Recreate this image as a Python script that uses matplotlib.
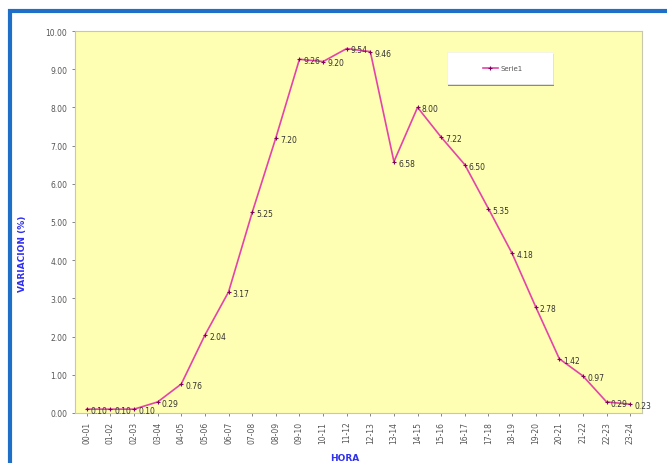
import matplotlib.pyplot as plt
from matplotlib.patches import Rectangle

# hourly intervals and percentage variation
horas = ['00-01', '01-02', '02-03', '03-04', '04-05', '05-06', '06-07', '07-08',
         '08-09', '09-10', '10-11', '11-12', '12-13', '13-14', '14-15', '15-16',
         '16-17', '17-18', '18-19', '19-20', '20-21', '21-22', '22-23', '23-24']
variacion = [0.10, 0.10, 0.10, 0.29, 0.76, 2.04, 3.17, 5.25, 7.20, 9.26, 9.20, 9.54,
             9.46, 6.58, 8.00, 7.22, 6.50, 5.35, 4.18, 2.78, 1.42, 0.97, 0.29, 0.23]
serie = 'Serie1'

W, H = 667, 464
fig = plt.figure(figsize=(W / 100, H / 100), dpi=100)

# blue frame around the chart (runs off the right and bottom edges)
fig.patches.append(Rectangle((10 / W, -0.2), 1.2, 1 - 12 / H + 0.2,
                             transform=fig.transFigure, fill=False,
                             edgecolor='#1f6fc9', linewidth=3))

pw, ph = 642 - 75, 414 - 32
ax = fig.add_axes([75 / W, 1 - 414 / H, pw / W, ph / H])
ax.set_facecolor('#ffffb3')

x = list(range(len(horas)))
ax.plot(x, variacion, color='#e444a8', linewidth=1.2, marker='+',
        markersize=3, markeredgecolor='#800060', markeredgewidth=0.8, label=serie)

for xi, v in zip(x, variacion):
    ax.annotate(f'{v:.2f}', (xi, v), xytext=(3, -1), textcoords='offset points',
                fontsize=5.5, color='#333333', va='center', ha='left')

ax.set_xlim(-0.5, len(horas) - 0.5)
ax.set_ylim(0, 10)
ax.set_yticks([i for i in range(11)])
ax.set_yticklabels([f'{i:.2f}' for i in range(11)])
ax.set_xticks(x)
ax.set_xticklabels(horas, rotation=90)
ax.tick_params(labelsize=5.5, colors='#555555', length=2, width=0.5)

for s in ax.spines.values():
    s.set_color('#c8c8b0')
    s.set_linewidth(0.8)

ax.set_ylabel('VARIACION (%)', color='#3030f0', fontsize=6.5, fontweight='bold')
ax.yaxis.set_label_coords(-48 / pw, 0.42)
ax.set_xlabel('HORA', color='#3030f0', fontsize=6.5, fontweight='bold')
ax.xaxis.set_label_coords((345 - 75) / pw, -40 / ph)

# legend box with a thin shadow, entry centred inside it
bx0, bx1, by0, by1 = (447 - 75) / pw, (553 - 75) / pw, 1 - (85 - 32) / ph, 1 - (53 - 32) / ph
ax.add_patch(Rectangle((bx0 + 1 / pw, by0 - 2 / ph), bx1 - bx0, by1 - by0,
                       transform=ax.transAxes, facecolor='#8a8a80', edgecolor='none', zorder=4))
ax.add_patch(Rectangle((bx0, by0), bx1 - bx0, by1 - by0,
                       transform=ax.transAxes, facecolor='white', edgecolor='#f0f0f0',
                       linewidth=0.5, zorder=5))
leg = ax.legend(loc='center', bbox_to_anchor=((bx0 + bx1) / 2 + 3 / pw, (by0 + by1) / 2),
                fontsize=5, frameon=False, handlelength=2.2, handletextpad=0.4,
                borderaxespad=0)
leg.set_zorder(6)
for t in leg.get_texts():
    t.set_color('#555555')

fig.savefig('out.png', dpi=100)
